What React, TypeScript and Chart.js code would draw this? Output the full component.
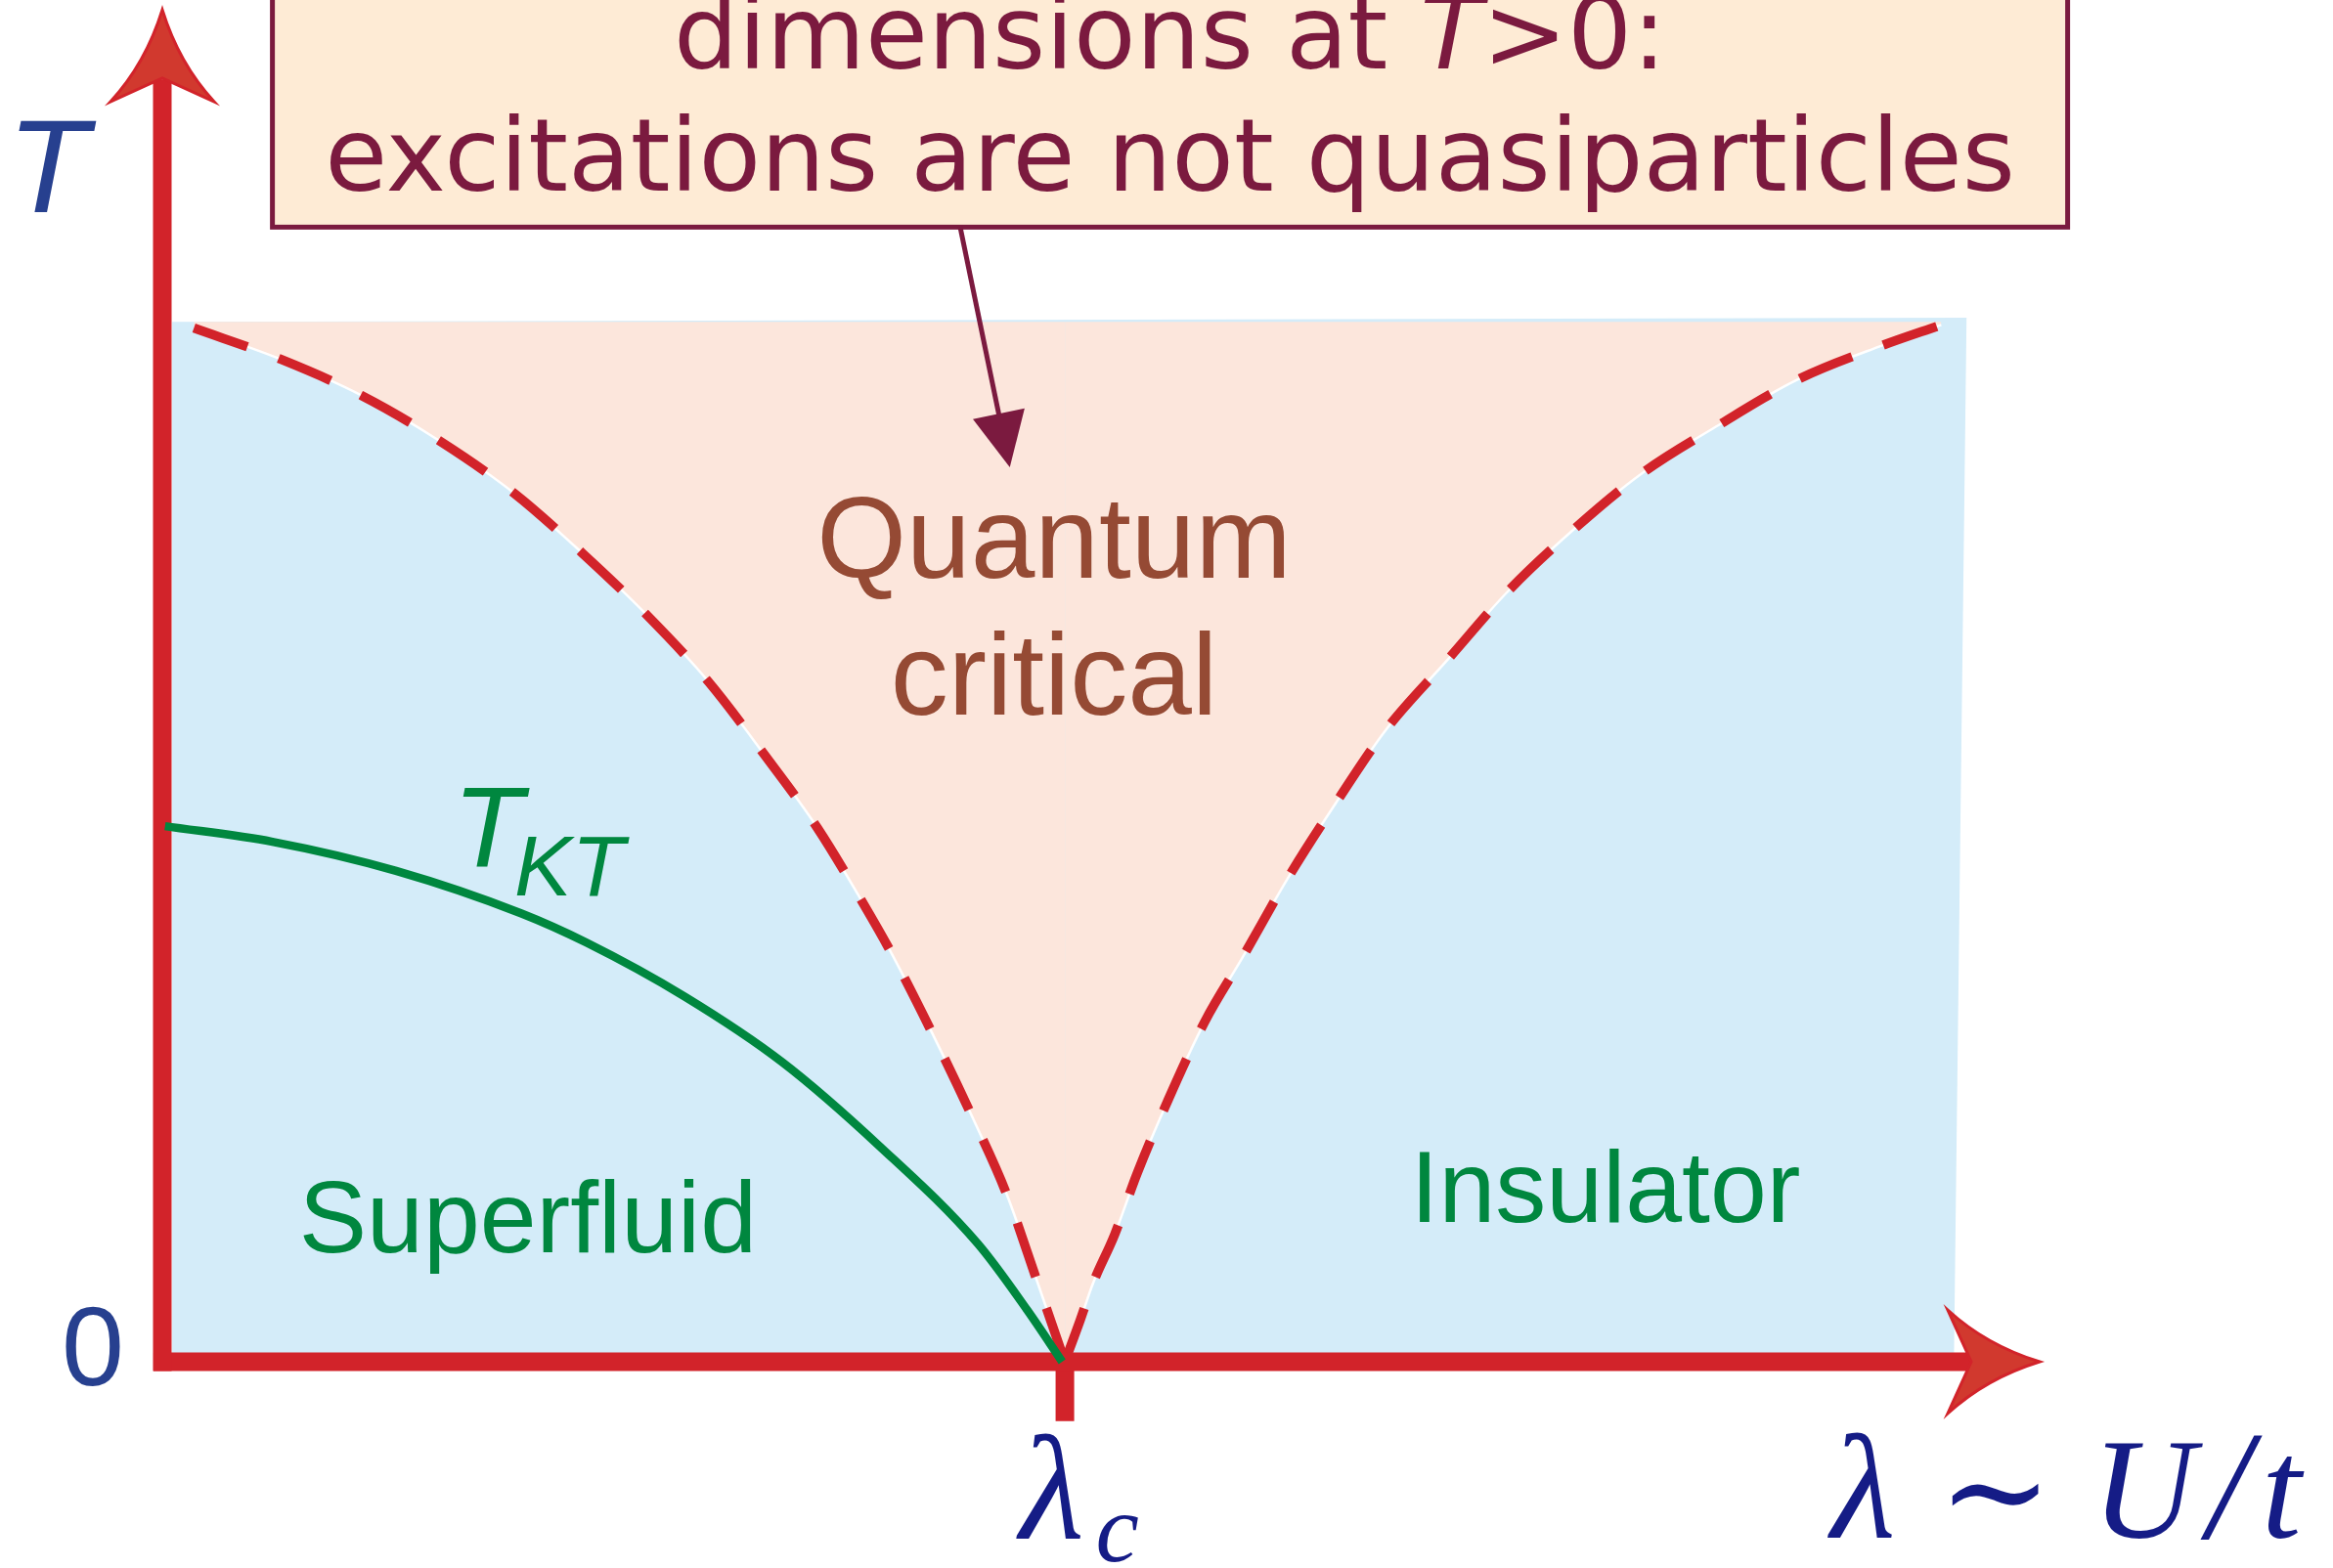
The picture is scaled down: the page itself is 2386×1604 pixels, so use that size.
import { useEffect, useRef } from 'react';
import { Chart, registerables } from 'chart.js';

Chart.register(...registerables);

// ---------- data (λ in units of λc, T in units of the shaded region height) ----------
const LAMBDA_C = 1.0;
const T_TOP = 1.0;
const X_MAX = 2.08;
const Y_MAX = 1.3;

// left crossover line (superfluid side), top → λc
const leftCrossX = [0.035, 0.131, 0.221, 0.308, 0.390, 0.466, 0.538, 0.605, 0.666, 0.726, 0.777, 0.809, 0.853, 0.896, 0.936, 0.969, 1.0];
const leftCrossT = [0.994, 0.964, 0.929, 0.885, 0.835, 0.777, 0.717, 0.654, 0.585, 0.513, 0.440, 0.391, 0.316, 0.238, 0.160, 0.078, 0.0];

// right crossover line (insulator side), λc → top
const rightCrossX = [1.0, 1.017, 1.031, 1.055, 1.080, 1.114, 1.155, 1.197, 1.247, 1.300, 1.356, 1.424, 1.490, 1.562, 1.639, 1.725, 1.811, 1.905, 1.971];
const rightCrossT = [0.0, 0.040, 0.075, 0.122, 0.181, 0.251, 0.327, 0.389, 0.465, 0.537, 0.608, 0.675, 0.740, 0.799, 0.854, 0.901, 0.944, 0.977, 0.997];

// Kosterlitz–Thouless line
const tktX = [0.003, 0.122, 0.259, 0.398, 0.470, 0.579, 0.687, 0.795, 0.904, 0.958, 0.997];
const tktT = [0.515, 0.500, 0.472, 0.431, 0.403, 0.351, 0.288, 0.207, 0.113, 0.050, 0.0];

// light-blue background region corners
const regionX = [0.011, 1.999, 1.985, 0.011];
const regionT = [1.0, 1.004, 0.0, 0.0];

// axes
const yAxisX = [0, 0];
const yAxisT = [-0.009, 1.233];
const xAxisX = [-0.0098, 2.005];
const xAxisT = [0, 0];
const tickX = [LAMBDA_C, LAMBDA_C];
const tickT = [0, -0.057];

// ---------- styles ----------
const RED = '#d2232a';
const ARROW_FILL = '#d1392e';
const GREEN = '#00873f';
const BLUE_BG = '#d4ecf9';
const PINK_BG = '#fce6dc';
const BROWN = '#954a34';
const AXIS_BLUE = '#27408f';
const NAVY = '#151c86';
const MAROON = '#7b1a3f';
const BOX_BG = '#feebd5';

const pts = (xs: number[], ys: number[]) => xs.map((v, i) => ({ x: v, y: ys[i] }));

type Lbl = { text: string; x: number; y: number; font: string; color: string; align: CanvasTextAlign };
const labels: Lbl[] = [
  { text: 'Quantum', x: 0.988, y: 0.754, font: '118px "Liberation Sans"', color: BROWN, align: 'center' },
  { text: 'critical', x: 0.988, y: 0.622, font: '118px "Liberation Sans"', color: BROWN, align: 'center' },
  { text: 'Superfluid', x: 0.405, y: 0.105, font: '104px "Liberation Sans"', color: GREEN, align: 'center' },
  { text: 'Insulator', x: 1.599, y: 0.134, font: '104px "Liberation Sans"', color: GREEN, align: 'center' },
  { text: 'T', x: 0.322, y: 0.476, font: 'italic 117px "Liberation Sans"', color: GREEN, align: 'left' },
  { text: 'KT', x: 0.390, y: 0.448, font: 'italic 88px "Liberation Sans"', color: GREEN, align: 'left' },
  { text: 'T', x: -0.172, y: 1.105, font: 'italic 136px "Liberation Sans"', color: AXIS_BLUE, align: 'left' },
  { text: '0', x: -0.077, y: -0.0226, font: '115px "Liberation Sans"', color: AXIS_BLUE, align: 'center' },
  { text: 'λ', x: 0.950, y: -0.170, font: 'italic 152px "Liberation Serif"', color: NAVY, align: 'left' },
  { text: 'c', x: 1.034, y: -0.192, font: 'italic 100px "Liberation Serif"', color: NAVY, align: 'left' },
  { text: 'λ', x: 1.849, y: -0.1692, font: 'italic 152px "Liberation Serif"', color: NAVY, align: 'left' },
  { text: '∼', x: 2.031, y: -0.1692, font: '140px "DejaVu Serif"', color: NAVY, align: 'center' },
  { text: 'U', x: 2.138, y: -0.1692, font: 'italic 146px "Liberation Serif"', color: NAVY, align: 'left' },
  { text: '/', x: 2.266, y: -0.1692, font: 'italic 158px "Liberation Serif"', color: NAVY, align: 'left' },
  { text: 't', x: 2.326, y: -0.1692, font: 'italic 146px "Liberation Serif"', color: NAVY, align: 'left' },
];

const BOX = { left: 0.122, right: 2.111, bottom: 1.091, top: 1.6 };
const boxLine1 = [
  { t: 'dimensions at ', italic: false },
  { t: 'T', italic: true },
  { t: '>0:', italic: false },
];
const boxLine2 = 'excitations are not quasiparticles';
const BOX_LINE1_T = 1.2436;
const BOX_LINE2_T = 1.1261;
const callout = { fromX: 0.884, fromT: 1.091, toX: 0.939, toT: 0.860 };

function drawAxisArrow(ctx: CanvasRenderingContext2D, tx: number, ty: number, dx: number, dy: number) {
  const bx = -dx, by = -dy; // backwards
  const qx = -dy, qy = dx; // perpendicular
  const P = (b: number, p: number) => [tx + bx * b + qx * p, ty + by * b + qy * p];
  const b1 = P(94, 53), b2 = P(94, -53), notch = P(70, 0), c1 = P(55, 17), c2 = P(55, -17);
  ctx.beginPath();
  ctx.moveTo(tx, ty);
  ctx.quadraticCurveTo(c1[0], c1[1], b1[0], b1[1]);
  ctx.lineTo(notch[0], notch[1]);
  ctx.lineTo(b2[0], b2[1]);
  ctx.quadraticCurveTo(c2[0], c2[1], tx, ty);
  ctx.closePath();
  ctx.fillStyle = ARROW_FILL;
  ctx.fill();
  ctx.lineWidth = 3;
  ctx.strokeStyle = RED;
  ctx.lineJoin = 'miter';
  ctx.stroke();
}

const overlay = {
  id: 'overlay',
  afterDatasetsDraw(chart: any) {
    const { ctx, scales } = chart;
    const px = (v: number) => scales.x.getPixelForValue(v);
    const py = (v: number) => scales.y.getPixelForValue(v);
    ctx.save();

    // axis arrowheads
    drawAxisArrow(ctx, px(0), py(Y_MAX), 0, -1);
    drawAxisArrow(ctx, px(X_MAX), py(0), 1, 0);

    // callout box
    const L = px(BOX.left), R = px(BOX.right), B = py(BOX.bottom), T = py(BOX.top);
    ctx.fillStyle = BOX_BG;
    ctx.fillRect(L, T, R - L, B - T);
    ctx.lineWidth = 5;
    ctx.strokeStyle = MAROON;
    ctx.strokeRect(L, T, R - L, B - T);

    const cx = (L + R) / 2;
    ctx.fillStyle = MAROON;
    ctx.textBaseline = 'alphabetic';
    const reg = '104px "DejaVu Sans"';
    const ita = 'oblique 104px "DejaVu Sans"';
    let total = 0;
    const widths = boxLine1.map((s) => {
      ctx.font = s.italic ? ita : reg;
      const w = ctx.measureText(s.t).width;
      total += w;
      return w;
    });
    let xx = cx - total / 2;
    ctx.textAlign = 'left';
    boxLine1.forEach((s, i) => {
      ctx.font = s.italic ? ita : reg;
      ctx.fillText(s.t, xx, py(BOX_LINE1_T));
      xx += widths[i];
    });
    ctx.font = reg;
    ctx.textAlign = 'center';
    ctx.fillText(boxLine2, cx, py(BOX_LINE2_T));

    // callout arrow
    const x0 = px(callout.fromX), y0 = py(callout.fromT), x1 = px(callout.toX), y1 = py(callout.toT);
    const len = Math.hypot(x1 - x0, y1 - y0);
    const ux = (x1 - x0) / len, uy = (y1 - y0) / len;
    const headL = 56, headW = 27;
    const hbx = x1 - ux * headL, hby = y1 - uy * headL;
    ctx.beginPath();
    ctx.moveTo(x0, y0);
    ctx.lineTo(hbx + ux * 4, hby + uy * 4);
    ctx.lineWidth = 5;
    ctx.strokeStyle = MAROON;
    ctx.stroke();
    ctx.beginPath();
    ctx.moveTo(x1, y1);
    ctx.lineTo(hbx - uy * headW, hby + ux * headW);
    ctx.lineTo(hbx + uy * headW, hby - ux * headW);
    ctx.closePath();
    ctx.fillStyle = MAROON;
    ctx.fill();

    // labels
    labels.forEach((l) => {
      ctx.font = l.font;
      ctx.fillStyle = l.color;
      ctx.textAlign = l.align;
      ctx.textBaseline = 'alphabetic';
      ctx.fillText(l.text, px(l.x), py(l.y));
    });
    ctx.restore();
  },
};

export default function App() {
  const ref = useRef<HTMLCanvasElement>(null);
  useEffect(() => {
    const base = { pointRadius: 0, pointHoverRadius: 0, clip: false as any, tension: 0 };
    const curve = { cubicInterpolationMode: 'monotone' as const, tension: 0.4 };
    const chart = new Chart(ref.current!, {
      type: 'line',
      data: {
        datasets: [
          { ...base, label: 'region', data: pts(regionX, regionT), fill: 'shape', backgroundColor: BLUE_BG, borderColor: 'rgba(0,0,0,0)', borderWidth: 1, order: 10 },
          { ...base, ...curve, label: 'qcL', data: pts(leftCrossX, leftCrossT), fill: { value: T_TOP }, backgroundColor: PINK_BG, borderColor: 'rgba(0,0,0,0)', borderWidth: 1, order: 9 },
          { ...base, ...curve, label: 'qcR', data: pts(rightCrossX, rightCrossT), fill: { value: T_TOP }, backgroundColor: PINK_BG, borderColor: 'rgba(0,0,0,0)', borderWidth: 1, order: 9 },
          { ...base, ...curve, label: 'edgeL', data: pts(leftCrossX, leftCrossT), fill: false, borderColor: '#ffffff', borderWidth: 2.5, order: 8 },
          { ...base, ...curve, label: 'edgeR', data: pts(rightCrossX, rightCrossT), fill: false, borderColor: '#ffffff', borderWidth: 2.5, order: 8 },
          { ...base, ...curve, label: 'crossL', data: pts(leftCrossX, leftCrossT), fill: false, borderColor: RED, borderWidth: 9.5, borderDash: [58, 34], borderCapStyle: 'butt', order: 7 },
          { ...base, ...curve, label: 'crossR', data: pts(rightCrossX, rightCrossT), fill: false, borderColor: RED, borderWidth: 9.5, borderDash: [58, 34], borderCapStyle: 'butt', order: 7 },
          { ...base, label: 'yAxis', data: pts(yAxisX, yAxisT), fill: false, borderColor: RED, borderWidth: 19, borderCapStyle: 'butt', order: 5 },
          { ...base, label: 'xAxis', data: pts(xAxisX, xAxisT), fill: false, borderColor: RED, borderWidth: 19, borderCapStyle: 'butt', order: 5 },
          { ...base, label: 'tick', data: pts(tickX, tickT), fill: false, borderColor: RED, borderWidth: 19, borderCapStyle: 'butt', order: 5 },
          { ...base, ...curve, label: 'TKT', data: pts(tktX, tktT), fill: false, borderColor: GREEN, borderWidth: 8.5, borderCapStyle: 'butt', order: 3 },
        ] as any,
      },
      options: {
        responsive: false,
        animation: false,
        devicePixelRatio: 1,
        layout: { padding: { left: 166, right: 300, top: 10, bottom: 211 } },
        scales: {
          x: { type: 'linear', min: 0, max: X_MAX, display: false },
          y: { type: 'linear', min: 0, max: Y_MAX, display: false },
        },
        plugins: { legend: { display: false }, tooltip: { enabled: false } },
        events: [],
      },
      plugins: [overlay],
    });
    return () => chart.destroy();
  }, []);
  return (
    <div style={{ position: 'fixed', left: 0, top: 0, width: 2386, height: 1604, background: '#ffffff' }}>
      <canvas ref={ref} width={2386} height={1604} style={{ display: 'block' }} />
    </div>
  );
}
